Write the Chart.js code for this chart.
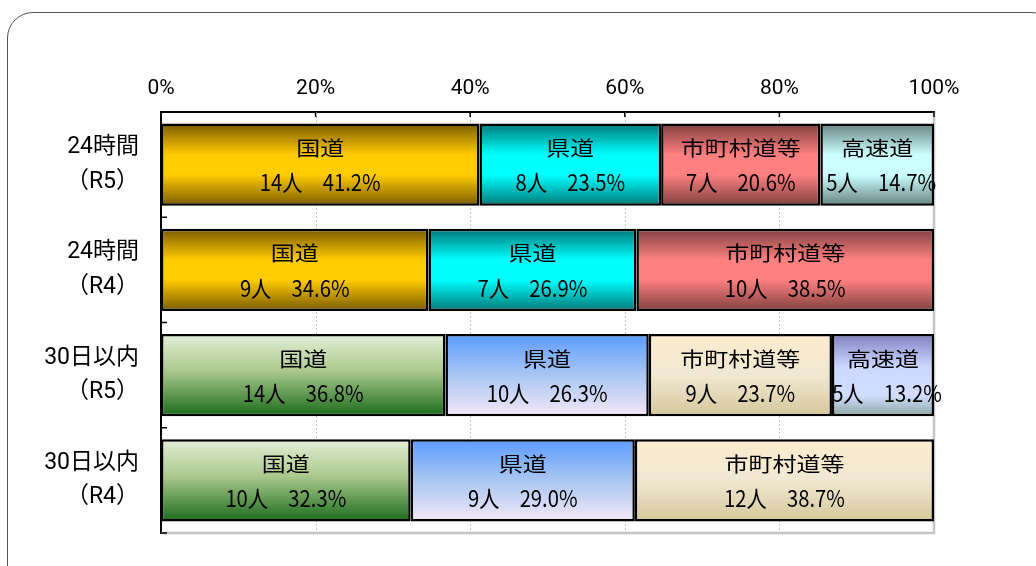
<!DOCTYPE html>
<html lang="ja">
<head>
<meta charset="utf-8">
<title>道路種別 死者数</title>
<script src="https://cdn.jsdelivr.net/npm/chart.js@4.4.1/dist/chart.umd.min.js"></script>
<style>
    html, body { margin: 0; padding: 0; background: #fff; overflow: hidden; }
    #wrap { position: relative; width: 1036px; height: 566px; }
    #frame {
        position: absolute; left: 7px; top: 12px; width: 1050px; height: 580px;
        border: 1.5px solid #555; border-radius: 26px; box-sizing: border-box;
    }
    #chart-road { position: absolute; left: 0; top: 0; }
</style>
</head>
<body>
<div id="wrap">
    <div id="frame"></div>
    <canvas id="chart-road" width="1036" height="566"></canvas>
</div>
<script>
// 行ラベル（上から）
const rowLabels = [
    ['24時間', '（R5）'],
    ['24時間', '（R4）'],
    ['30日以内', '（R5）'],
    ['30日以内', '（R4）']
];

// 道路種別
const roadTypes = ['国道', '県道', '市町村道等', '高速道'];

// 人数
const countKokudo    = [14, 9, 14, 10];
const countKendo     = [8, 7, 10, 9];
const countShichoson = [7, 10, 9, 12];
const countKosoku    = [5, 0, 5, 0];

// 構成比（%）
const pctKokudo    = [41.2, 34.6, 36.8, 32.3];
const pctKendo     = [23.5, 26.9, 26.3, 29.0];
const pctShichoson = [20.6, 38.5, 23.7, 38.7];
const pctKosoku    = [14.7, 0, 13.2, 0];

// 軸目盛り
const xTicks = [0, 20, 40, 60, 80, 100];

const BAR_PCT = 0.78;
const AXIS_FONT = 'Roboto, "Noto Sans CJK JP"';

// グラデーション（24時間の行 / 30日以内の行）
const gradients24 = [
    [[0, '#7a5a00'], [0.38, '#ffcc00'], [0.62, '#ffcc00'], [1, '#7a5a00']],
    [[0, '#007878'], [0.38, '#00ffff'], [0.62, '#00ffff'], [1, '#007878']],
    [[0, '#7f4040'], [0.38, '#ff8080'], [0.62, '#ff8080'], [1, '#7f4040']],
    [[0, '#668282'], [0.38, '#ccffff'], [0.62, '#ccffff'], [1, '#668282']]
];
const gradients30 = [
    [[0, '#e4efd8'], [0.45, '#aac98c'], [1, '#1b6b1b']],
    [[0, '#5b9bff'], [0.5, '#a9c6f2'], [1, '#f4e8f8']],
    [[0, '#fdecce'], [0.5, '#f0e8d2'], [1, '#d6c69a']],
    [[0, '#8080c0'], [0.4, '#ccd8ff'], [0.75, '#d2ddff'], [1, '#8aa6a0']]
];

function barFill(context) {
    const chart = context.chart;
    if (!chart.chartArea || context.dataIndex === undefined) return '#ccc';
    const yScale = chart.scales.y;
    const center = yScale.getPixelForValue(context.dataIndex);
    const half = (yScale.height / rowLabels.length) * BAR_PCT / 2;
    const stops = (context.dataIndex < 2 ? gradients24 : gradients30)[context.datasetIndex];
    const g = chart.ctx.createLinearGradient(0, center - half, 0, center + half);
    stops.forEach(s => g.addColorStop(s[0], s[1]));
    return g;
}

const counts = [countKokudo, countKendo, countShichoson, countKosoku];
const pcts = [pctKokudo, pctKendo, pctShichoson, pctKosoku];

// 横に伸ばした／縮めた文字を描く
function drawScaledText(ctx, text, x, y, font, sx) {
    ctx.save();
    ctx.translate(x, y);
    ctx.scale(sx, 1);
    ctx.font = font;
    ctx.fillText(text, 0, 0);
    ctx.restore();
}

// 棒の中のラベル
const barLabels = {
    id: 'barLabels',
    afterDatasetsDraw(chart) {
        const ctx = chart.ctx;
        ctx.save();
        ctx.fillStyle = '#000';
        ctx.textAlign = 'center';
        ctx.textBaseline = 'middle';
        chart.data.datasets.forEach((ds, di) => {
            const meta = chart.getDatasetMeta(di);
            meta.data.forEach((bar, i) => {
                if (!pcts[di][i]) return;
                let cx = (bar.x + bar.base) / 2;
                drawScaledText(ctx, roadTypes[di], cx, bar.y - 16, '20px "Noto Sans CJK JP"', 1.2);
                if (di === 3) cx += 4; // 高速道は右へはみ出す
                drawScaledText(ctx, counts[di][i] + '人　' + pcts[di][i].toFixed(1) + '%',
                    cx, bar.y + 18, '23px "Noto Sans CJK JP"', 0.88);
            });
        });
        ctx.restore();
    }
};

// 枠線・補助線・内向きの目盛り
const plotFrame = {
    id: 'plotFrame',
    beforeDatasetsDraw(chart) {
        const { ctx, chartArea: a, scales } = chart;
        ctx.save();
        ctx.strokeStyle = '#c4c4c4';
        ctx.lineWidth = 1;
        ctx.setLineDash([2, 2]);
        ctx.beginPath();
        xTicks.slice(1, -1).forEach(v => {
            const x = Math.round(scales.x.getPixelForValue(v)) + 0.5;
            ctx.moveTo(x, a.top);
            ctx.lineTo(x, a.bottom);
        });
        ctx.stroke();
        ctx.setLineDash([]);
        ctx.lineWidth = 2.5;
        ctx.beginPath();
        ctx.moveTo(a.right, a.top);
        ctx.lineTo(a.right, a.bottom);
        ctx.lineTo(a.left, a.bottom);
        ctx.stroke();
        ctx.restore();
    },
    afterDatasetsDraw(chart) {
        const { ctx, chartArea: a, scales } = chart;
        ctx.save();
        ctx.strokeStyle = '#000';
        ctx.lineWidth = 1.5;
        ctx.beginPath();
        xTicks.forEach(v => {
            const x = scales.x.getPixelForValue(v);
            ctx.moveTo(x, a.top);
            ctx.lineTo(x, a.top + 5);
        });
        const step = a.height / rowLabels.length;
        for (let i = 1; i <= rowLabels.length; i++) {
            const y = a.top + step * i;
            ctx.moveTo(a.left, y);
            ctx.lineTo(a.left + 6, y);
        }
        ctx.stroke();
        ctx.restore();
    }
};

const datasets = roadTypes.map((name, i) => ({
    label: name,
    data: pcts[i],
    backgroundColor: barFill,
    borderColor: '#000',
    borderWidth: 2.5,
    borderSkipped: false,
    barPercentage: BAR_PCT,
    categoryPercentage: 1
}));

new Chart(document.getElementById('chart-road'), {
    type: 'bar',
    data: { labels: rowLabels, datasets: datasets },
    plugins: [plotFrame, barLabels],
    options: {
        indexAxis: 'y',
        responsive: false,
        animation: false,
        layout: { padding: { left: 0, right: 102, top: 0, bottom: 33 } },
        plugins: {
            legend: { display: false },
            tooltip: { enabled: false }
        },
        scales: {
            x: {
                position: 'top',
                stacked: true,
                min: 0,
                max: 100,
                afterFit(scale) {
                    scale.height = 112;
                    scale.paddingLeft = 0;
                    scale.paddingRight = 0;
                },
                afterBuildTicks(scale) { scale.ticks = xTicks.map(v => ({ value: v })); },
                border: { display: true, color: '#000', width: 2 },
                grid: { display: false, drawTicks: false },
                ticks: {
                    color: '#000',
                    padding: 11,
                    maxRotation: 0,
                    font: { family: AXIS_FONT, size: 21 },
                    callback: v => v + '%'
                }
            },
            y: {
                stacked: true,
                afterFit(scale) {
                    scale.width = 161;
                    scale.paddingTop = 0;
                    scale.paddingBottom = 0;
                },
                border: { display: true, color: '#000', width: 2 },
                grid: { display: false, drawTicks: false },
                ticks: {
                    color: '#000',
                    padding: 22,
                    font: { family: AXIS_FONT, size: 23, lineHeight: 1.5 }
                }
            }
        }
    }
});
</script>
</body>
</html>
